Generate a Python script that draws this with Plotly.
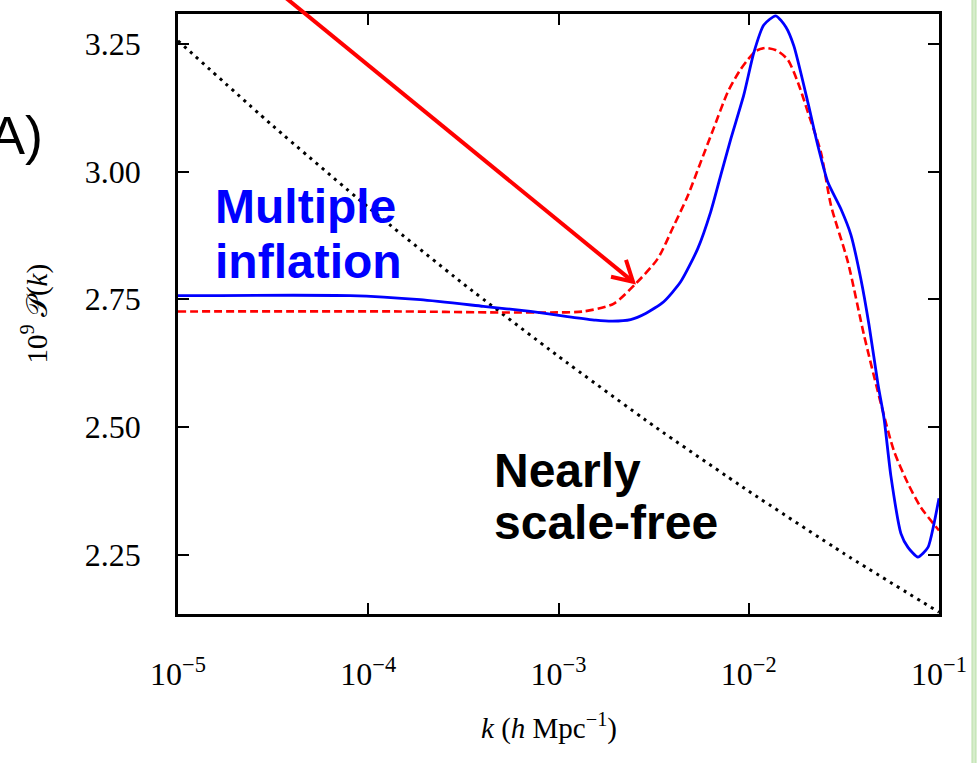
import numpy as np
import plotly.graph_objects as go

# Primordial power spectrum, 10^9 P(k), against wavenumber k (h/Mpc).
# Wavenumbers are stored as log10(k).

# Multiple-inflation spectrum (solid blue)
multi_logk = [-5.000, -4.095, -3.726, -3.395, -3.147, -2.953, -2.805, -2.716,
              -2.621, -2.542, -2.447, -2.358, -2.268, -2.200, -2.147, -2.095,
              -2.026, -1.974, -1.921, -1.858, -1.805, -1.763, -1.689, -1.637,
              -1.584, -1.516, -1.463, -1.411, -1.368, -1.321, -1.289, -1.253,
              -1.200, -1.163, -1.111, -1.058, -1.026, -1.000]
multi_P = [2.757, 2.757, 2.749, 2.736, 2.726, 2.716, 2.709, 2.707,
           2.710, 2.722, 2.745, 2.784, 2.849, 2.921, 2.993, 3.063,
           3.150, 3.232, 3.287, 3.305, 3.283, 3.246, 3.135, 3.051,
           2.979, 2.927, 2.876, 2.790, 2.700, 2.584, 2.517, 2.404,
           2.291, 2.264, 2.245, 2.264, 2.311, 2.360]

# Best-fit smooth feature model (dashed red)
fit_logk = [-5.000, -3.832, -3.305, -3.042, -2.868, -2.711, -2.595, -2.479,
            -2.395, -2.321, -2.253, -2.184, -2.111, -2.050, -2.005, -1.963,
            -1.911, -1.853, -1.795, -1.742, -1.689, -1.621, -1.568, -1.479,
            -1.395, -1.305, -1.237, -1.163, -1.095, -1.000]
fit_P = [2.726, 2.726, 2.724, 2.724, 2.726, 2.741, 2.780, 2.829,
         2.893, 2.952, 3.018, 3.085, 3.155, 3.196, 3.219, 3.236,
         3.242, 3.237, 3.219, 3.175, 3.116, 3.038, 2.934, 2.823,
         2.681, 2.545, 2.453, 2.389, 2.342, 2.297]

# Nearly scale-free power law (dotted black)
pl_logk = [-5.0, -4.5, -4.0, -3.5, -3.0, -2.5, -2.0, -1.5, -1.0]
pl_P = [3.256, 3.089, 2.930, 2.780, 2.638, 2.502, 2.374, 2.252, 2.137]

x_tick_exp = [-5, -4, -3, -2, -1]
y_ticks = [2.25, 2.50, 2.75, 3.00, 3.25]

X0, X1 = -5.0, -1.0
Y0, Y1 = 2.1335, 3.3085

fig = go.Figure()

fig.add_trace(go.Scatter(
    x=np.power(10.0, pl_logk), y=pl_P, mode="lines",
    line=dict(color="black", width=3, dash="3px,5px", shape="spline",
              smoothing=0.5),
    hoverinfo="skip"))
fig.add_trace(go.Scatter(
    x=np.power(10.0, fit_logk), y=fit_P, mode="lines",
    line=dict(color="#ff0000", width=2.6, dash="8px,4px", shape="spline",
              smoothing=0.7),
    hoverinfo="skip"))
fig.add_trace(go.Scatter(
    x=np.power(10.0, multi_logk), y=multi_P, mode="lines",
    line=dict(color="#0000ff", width=2.8, shape="spline", smoothing=0.6),
    hoverinfo="skip"))

serif = "Liberation Serif, Times New Roman, serif"
sans = "Liberation Sans, Arial, sans-serif"

fig.update_xaxes(
    type="log", range=[X0, X1],
    tickvals=[10.0 ** e for e in x_tick_exp],
    ticktext=[f"10<sup>\u2212{-e}</sup>" for e in x_tick_exp],
    ticks="inside", ticklen=11, tickwidth=2, tickcolor="black",
    showline=True, linecolor="black", linewidth=2.5, mirror="ticks",
    showgrid=False, zeroline=False,
    tickfont=dict(family=serif, size=32, color="black"),
    ticklabelstandoff=30,
)
fig.update_yaxes(
    range=[Y0, Y1],
    tickvals=y_ticks, ticktext=[f"{v:.2f}" for v in y_ticks],
    ticks="inside", ticklen=11, tickwidth=2, tickcolor="black",
    showline=True, linecolor="black", linewidth=2.5, mirror="ticks",
    showgrid=False, zeroline=False,
    tickfont=dict(family=serif, size=32, color="black"),
    ticklabelstandoff=28,
)

W, H = 978, 763
ML, MR, MT, MB = 178, 39, 11, 149
PW, PH = W - ML - MR, H - MT - MB


def px(xp):
    return (xp - ML) / PW


def py(yp):
    return (H - MB - yp) / PH


annotations = [
    dict(text="10<sup>9</sup> \U0001D4AB(<i>k</i>)", x=px(35), y=py(312),
         xanchor="center", textangle=-90,
         font=dict(family=serif, size=29, color="black")),
    dict(text="<i>k</i> (<i>h</i> Mpc<sup>\u22121</sup>)", x=px(549), y=py(727),
         xanchor="center",
         font=dict(family=serif, size=29, color="black")),
    dict(text="(A)", x=px(45), y=py(133), xanchor="right",
         font=dict(family=sans, size=54, color="black")),
    dict(text="<b>Multiple</b>", x=px(213), y=py(204), xanchor="left",
         font=dict(family=sans, size=48, color="#0000ff")),
    dict(text="<b>inflation</b>", x=px(213), y=py(260), xanchor="left",
         font=dict(family=sans, size=48, color="#0000ff")),
    dict(text="<b>Nearly</b>", x=px(492), y=py(470), xanchor="left",
         font=dict(family=sans, size=48, color="black")),
    dict(text="<b>scale-free</b>", x=px(492), y=py(522), xanchor="left",
         font=dict(family=sans, size=48, color="black")),
]
for a in annotations:
    a.update(xref="paper", yref="paper", showarrow=False, yanchor="middle")

# Red pointer arrow with an open V head
tip = (633, 280)
shapes = [
    dict(type="line", xref="paper", yref="paper",
         x0=px(280), y0=py(-10), x1=px(tip[0]), y1=py(tip[1]),
         line=dict(color="#ff0000", width=4)),
    dict(type="path", xref="paper", yref="paper",
         path=(f"M {px(611)} {py(275)} L {px(tip[0])} {py(tip[1])} "
               f"L {px(626)} {py(258)}"),
         line=dict(color="#ff0000", width=4)),
    # light green page strip at the right edge
    dict(type="rect", xref="paper", yref="paper",
         x0=px(972), x1=px(976), y0=py(H + 5), y1=py(-5),
         fillcolor="#d6edcb", line=dict(color="#b9dfa9", width=1),
         layer="below"),
]

fig.update_layout(
    width=W, height=H,
    margin=dict(l=ML, r=MR, t=MT, b=MB, pad=0),
    paper_bgcolor="white", plot_bgcolor="white",
    showlegend=False,
    annotations=annotations,
    shapes=shapes,
)

fig.write_html("out.html")
